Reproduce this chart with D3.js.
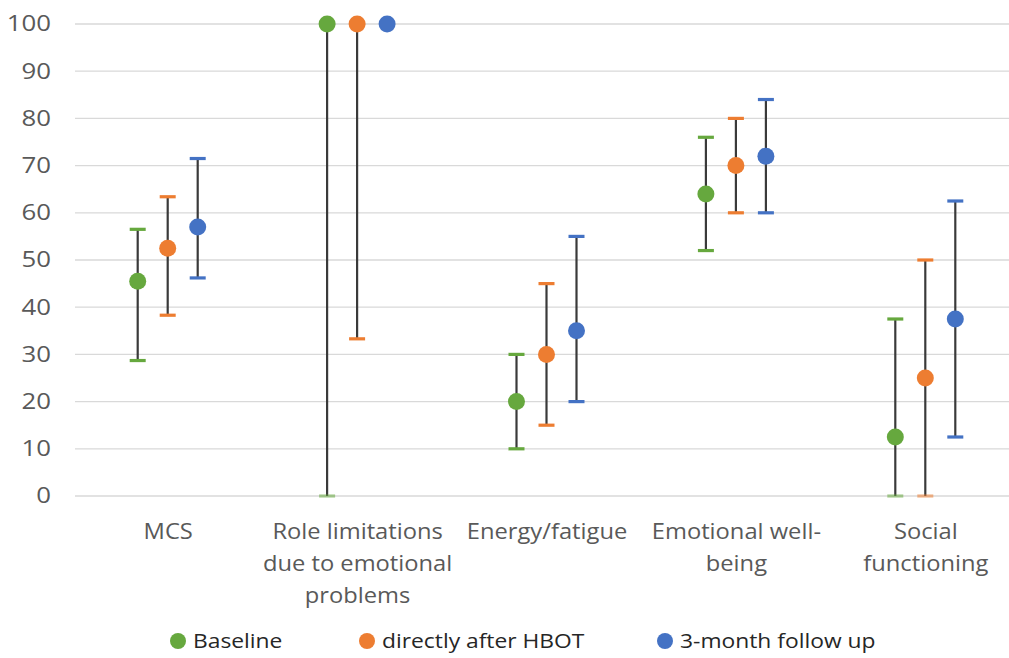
<!DOCTYPE html>
<html><head><meta charset="utf-8">
<script src="https://cdn.jsdelivr.net/npm/d3@7"></script>
<style>body{margin:0;background:#fff;font-family:"Open Sans",sans-serif;}</style>
</head><body><svg id="c" width="1009" height="658"></svg>
<script>
const categories = [["MCS"],["Role limitations","due to emotional","problems"],["Energy/fatigue"],["Emotional well-","being"],["Social","functioning"]];
const seriesNames = ["Baseline","directly after HBOT","3-month follow up"];
const colors = ["#66A83E","#ED7D31","#4472C4"];
const baseline = [45.5, 100, 20, 64, 12.5];
const baselineLow = [28.7, 0, 10, 52, 0];
const baselineHigh = [56.5, 100, 30, 76, 37.5];
const afterHBOT = [52.5, 100, 30, 70, 25];
const afterLow = [38.3, 33.3, 15, 60, 0];
const afterHigh = [63.4, 100, 45, 80, 50];
const followUp = [57, 100, 35, 72, 37.5];
const followLow = [46.2, 100, 20, 60, 12.5];
const followHigh = [71.5, 100, 55, 84, 62.5];
const yTicks = [0,10,20,30,40,50,60,70,80,90,100];

const series = [
  {name: seriesNames[0], v: baseline, lo: baselineLow, hi: baselineHigh},
  {name: seriesNames[1], v: afterHBOT, lo: afterLow, hi: afterHigh},
  {name: seriesNames[2], v: followUp, lo: followLow, hi: followHigh}
];

const svg = d3.select("#c");
const pLeft = 73.5, pRight = 1020.5, pTop = 24, pBottom = 496;
const x = d3.scaleBand().domain(d3.range(categories.length)).range([pLeft,pRight]);
const xs = d3.scaleBand().domain(d3.range(3)).range([-45,45]).paddingInner(0);
const y = d3.scaleLinear().domain([0,100]).range([pBottom, pTop]);

// grid
svg.append("g").selectAll("line").data(yTicks).join("line")
  .attr("x1", 75).attr("x2", 1009)
  .attr("y1", d=>y(d)).attr("y2", d=>y(d))
  .attr("stroke", "#d9d9d9").attr("stroke-width", 1.3);

// y axis labels
const yAxis = d3.axisLeft(y).tickValues(yTicks).tickSize(0).tickPadding(0);
const ya = svg.append("g").attr("transform","translate(51,0)").call(yAxis);
ya.select(".domain").remove();
ya.selectAll("text").attr("font-family","'Open Sans',sans-serif").attr("font-size",21.5)
  .attr("fill","#595959").attr("transform","scale(1.2,1)");

// category labels
const xl = svg.append("g");
categories.forEach((lines,i)=>{
  const t = xl.append("g").attr("transform",`translate(${x(i)+x.bandwidth()/2},0) scale(1.13,1)`)
    .append("text").attr("text-anchor","middle")
    .attr("font-size",21).attr("fill","#595959");
  lines.forEach((l,j)=>{
    t.append("tspan").attr("x", 0).attr("y", 539 + j*32).text(l);
  });
});

const px = (i,s)=> x(i)+x.bandwidth()/2 + xs(s)+xs.bandwidth()/2 - 0.5;

series.forEach((s,si)=>{
  const g = svg.append("g");
  const idx = d3.range(categories.length);
  g.selectAll("line.err").data(idx.filter(i=>s.hi[i]!==s.lo[i])).join("line")
    .attr("x1", i=>px(i,si)).attr("x2", i=>px(i,si))
    .attr("y1", i=>y(s.lo[i])).attr("y2", i=>y(s.hi[i]))
    .attr("stroke","#3a3a3a").attr("stroke-width",2.2);
  const caps = [];
  idx.forEach(i=>{ if(s.hi[i]!==s.lo[i]){ caps.push([i,s.lo[i]]); caps.push([i,s.hi[i]]);} });
  g.selectAll("line.cap").data(caps).join("line")
    .attr("x1", d=>px(d[0],si)-8).attr("x2", d=>px(d[0],si)+8)
    .attr("y1", d=>y(d[1])).attr("y2", d=>y(d[1]))
    .attr("stroke", colors[si]).attr("stroke-width",3.2)
    .attr("opacity", d=>d[1]===0?0.55:1);
  g.selectAll("circle").data(idx).join("circle")
    .attr("cx", i=>px(i,si)).attr("cy", i=>y(s.v[i])).attr("r",8.5)
    .attr("fill", colors[si]);
});

// legend
const legX = [178, 367, 665];
const lg = svg.append("g");
series.forEach((s,si)=>{
  lg.append("circle").attr("cx",legX[si]).attr("cy",641).attr("r",8).attr("fill",colors[si]);
  lg.append("g").attr("transform",`translate(${legX[si]+15},648) scale(1.17,1)`)
    .append("text").attr("x",0).attr("y",0).attr("font-size",19.5).attr("fill","#262626").text(s.name);
});
</script></body></html>
